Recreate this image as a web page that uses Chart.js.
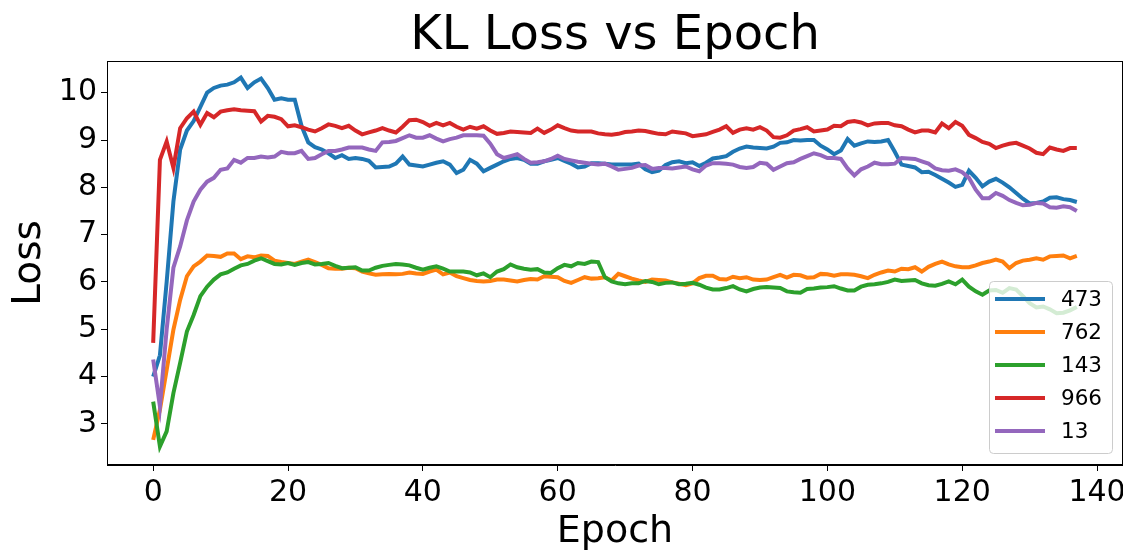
<!DOCTYPE html>
<html>
<head>
<meta charset="utf-8">
<title>KL Loss vs Epoch</title>
<script src="https://cdn.jsdelivr.net/npm/chart.js@4.4.1/dist/chart.umd.min.js"></script>
<style>
  html, body { margin: 0; padding: 0; background: #ffffff; }
  #wrap { width: 1123px; height: 555px; }
</style>
</head>
<body>
<div id="wrap"><canvas id="klChart" width="1123" height="555"></canvas></div>
<script>
/* ===KL loss per epoch, five runs=== */
const FONT = '"DejaVu Sans", "Liberation Sans", sans-serif';

const runNames = ['473', '762', '143', '966', '13'];
const runColors = ['#1f77b4', '#ff7f0e', '#2ca02c', '#d62728', '#9467bd'];
const xTicks = [0, 20, 40, 60, 80, 100, 120, 140];
const yTicks = [3, 4, 5, 6, 7, 8, 9, 10];

// epochs 0..137, one point per epoch
const epochs = Array.from({ length: 138 }, (_, i) => i);

const loss473 = [
  4.0, 4.45, 6.0, 7.7, 8.8, 9.2, 9.4, 9.7, 10.0, 10.1,
  10.15, 10.17, 10.22, 10.32, 10.1, 10.22, 10.3, 10.1, 9.85, 9.88,
  9.85, 9.85, 9.3, 8.95, 8.85, 8.8, 8.72, 8.62, 8.68, 8.6,
  8.62, 8.6, 8.56, 8.42, 8.43, 8.44, 8.5, 8.65, 8.48, 8.46,
  8.44, 8.48, 8.52, 8.55, 8.48, 8.3, 8.37, 8.58, 8.5, 8.34,
  8.41, 8.48, 8.55, 8.6, 8.62, 8.58, 8.5, 8.5, 8.55, 8.58,
  8.62, 8.56, 8.5, 8.42, 8.44, 8.51, 8.51, 8.5, 8.48, 8.48,
  8.48, 8.48, 8.5, 8.38, 8.32, 8.35, 8.47, 8.53, 8.55, 8.51,
  8.53, 8.45, 8.52, 8.61, 8.63, 8.66, 8.75, 8.82, 8.86, 8.84,
  8.83, 8.82, 8.86, 8.94, 8.95, 9.0, 8.99, 9.0, 9.0, 8.88,
  8.8, 8.7, 8.78, 9.02, 8.88, 8.93, 8.97, 8.96, 8.97, 9.0,
  8.75, 8.48, 8.45, 8.42, 8.32, 8.33, 8.26, 8.18, 8.1, 8.01,
  8.05, 8.35, 8.2, 8.02, 8.12, 8.18, 8.1, 8.0, 7.88, 7.76,
  7.66, 7.67, 7.7, 7.78, 7.79, 7.75, 7.73, 7.69
];

const loss762 = [
  2.66, 3.3, 4.14, 4.99, 5.62, 6.12, 6.33, 6.43, 6.56, 6.55,
  6.53, 6.6, 6.6, 6.48, 6.54, 6.52, 6.56, 6.55, 6.45, 6.42,
  6.4, 6.38, 6.43, 6.47, 6.42, 6.36, 6.29, 6.28, 6.28, 6.3,
  6.29, 6.22, 6.18, 6.15, 6.16, 6.17, 6.16, 6.17, 6.2, 6.18,
  6.17, 6.22, 6.26, 6.16, 6.2, 6.12, 6.08, 6.04, 6.02, 6.01,
  6.02, 6.05, 6.05, 6.03, 6.01, 6.04, 6.06, 6.05, 6.12, 6.11,
  6.1, 6.02, 5.98, 6.04, 6.1, 6.07, 6.08, 6.1, 6.03, 6.17,
  6.12, 6.07, 6.03, 6.0, 6.05, 6.04, 6.03, 5.99, 5.96, 5.93,
  5.97, 6.08, 6.13, 6.13, 6.06, 6.05, 6.11, 6.08, 6.1, 6.05,
  6.04, 6.05, 6.1, 6.15, 6.09, 6.15, 6.14, 6.09, 6.1, 6.17,
  6.16, 6.13, 6.16, 6.16, 6.15, 6.12, 6.08, 6.15, 6.2, 6.24,
  6.22, 6.28, 6.27, 6.31, 6.22, 6.32, 6.38, 6.43, 6.37, 6.33,
  6.31, 6.31, 6.35, 6.4, 6.43, 6.47, 6.43, 6.29, 6.4, 6.45,
  6.47, 6.5, 6.47, 6.54, 6.55, 6.56, 6.5, 6.55
];

const loss143 = [
  3.47, 2.52, 2.84, 3.65, 4.29, 4.95, 5.3, 5.7, 5.9, 6.05,
  6.16, 6.2, 6.28, 6.35, 6.38, 6.45, 6.5, 6.44, 6.38, 6.37,
  6.4, 6.36, 6.4, 6.42, 6.37, 6.38, 6.4, 6.34, 6.29, 6.3,
  6.31, 6.24, 6.24, 6.3, 6.34, 6.36, 6.38, 6.37, 6.35, 6.3,
  6.26, 6.3, 6.33, 6.28, 6.22, 6.22, 6.22, 6.2, 6.14, 6.18,
  6.1, 6.22, 6.27, 6.37, 6.31, 6.28, 6.26, 6.27, 6.2, 6.19,
  6.29, 6.36, 6.33, 6.4, 6.38, 6.43, 6.42, 6.1, 6.01, 5.97,
  5.95, 5.97, 5.97, 6.02, 6.0, 5.95, 5.98, 5.99, 5.95, 5.96,
  5.98, 5.94, 5.88, 5.84, 5.84, 5.87, 5.91, 5.84, 5.8, 5.85,
  5.88, 5.89, 5.88, 5.87, 5.8, 5.78, 5.77, 5.85, 5.86, 5.88,
  5.89, 5.91, 5.86, 5.82, 5.82, 5.9, 5.94, 5.95, 5.97, 6.0,
  6.05, 6.02, 6.03, 6.04, 5.97, 5.93, 5.92, 5.96, 6.01, 5.95,
  6.05, 5.9, 5.8, 5.73, 5.82, 5.83, 5.77, 5.87, 5.84, 5.7,
  5.55, 5.46, 5.48, 5.42, 5.34, 5.35, 5.4, 5.47
];

const loss966 = [
  4.71, 8.58, 8.97, 8.41, 9.25, 9.46, 9.6, 9.32, 9.57, 9.48,
  9.6, 9.63, 9.65, 9.63, 9.62, 9.61, 9.39, 9.51, 9.49, 9.44,
  9.29, 9.31, 9.27, 9.22, 9.18, 9.25, 9.33, 9.3, 9.25, 9.3,
  9.2, 9.12, 9.16, 9.2, 9.25, 9.2, 9.16, 9.28, 9.42, 9.43,
  9.38, 9.3, 9.36, 9.31, 9.36, 9.28, 9.22, 9.28, 9.24, 9.29,
  9.2, 9.13, 9.15, 9.18, 9.17, 9.16, 9.15, 9.24, 9.15, 9.22,
  9.31, 9.25, 9.2, 9.18, 9.18, 9.18, 9.14, 9.12, 9.11, 9.13,
  9.17, 9.18, 9.2, 9.19, 9.16, 9.13, 9.12, 9.18, 9.16, 9.14,
  9.08, 9.1, 9.12, 9.17, 9.22, 9.29, 9.15, 9.22, 9.25, 9.22,
  9.27, 9.2, 9.06, 9.05, 9.1, 9.2, 9.23, 9.27, 9.18, 9.2,
  9.22, 9.3, 9.29, 9.38, 9.4, 9.37, 9.31, 9.35, 9.36, 9.36,
  9.31, 9.29, 9.22, 9.16, 9.2, 9.2, 9.16, 9.35, 9.25, 9.38,
  9.3, 9.11, 9.04, 8.96, 8.92, 8.83, 8.88, 8.92, 8.94, 8.88,
  8.82, 8.73, 8.7, 8.84, 8.8, 8.77, 8.83, 8.83
];

const loss13 = [
  4.36, 3.37, 5.0, 6.3, 6.75, 7.3, 7.7, 7.95, 8.12, 8.2,
  8.37, 8.4, 8.58, 8.52, 8.62, 8.62, 8.65, 8.63, 8.65, 8.75,
  8.72, 8.72, 8.77, 8.6, 8.62, 8.7, 8.77, 8.77, 8.8, 8.84,
  8.84, 8.84, 8.8, 8.77, 8.95, 8.96, 8.98, 9.04, 9.1, 9.05,
  9.05, 9.1, 9.03, 8.97, 9.02, 9.05, 9.1, 9.1, 9.1, 9.09,
  8.92, 8.7, 8.62, 8.66, 8.7, 8.6, 8.52, 8.53, 8.55, 8.6,
  8.67, 8.6, 8.57, 8.54, 8.52, 8.5, 8.48, 8.5, 8.44, 8.37,
  8.39, 8.41, 8.46, 8.47, 8.39, 8.41, 8.41, 8.4, 8.42, 8.44,
  8.38, 8.34, 8.46, 8.51, 8.51, 8.5, 8.48, 8.43, 8.41, 8.43,
  8.52, 8.5, 8.37, 8.44, 8.51, 8.53, 8.6, 8.66, 8.72, 8.68,
  8.62, 8.62, 8.6, 8.4, 8.25, 8.38, 8.44, 8.52, 8.49, 8.49,
  8.5, 8.62, 8.61, 8.6, 8.55, 8.5, 8.4, 8.36, 8.35, 8.38,
  8.32, 8.2, 7.95, 7.77, 7.77, 7.88, 7.82, 7.73, 7.67, 7.62,
  7.63, 7.67, 7.66, 7.58, 7.57, 7.6, 7.58, 7.5
];

const runLosses = [loss473, loss762, loss143, loss966, loss13];

// top/right spines plus the boxed legend in the lower right corner
const frameAndLegend = {
  id: 'frameAndLegend',
  afterDatasetsDraw(chart) {
    const { ctx, chartArea } = chart;
    ctx.save();
    ctx.strokeStyle = '#000';
    ctx.lineWidth = 1;
    ctx.strokeRect(chartArea.left + 0.5, chartArea.top + 0.5,
      chartArea.right - chartArea.left - 1, chartArea.bottom - chartArea.top - 1);

    const w = 123, h = 172;
    const x0 = chartArea.right - 11 - w;
    const y0 = chartArea.bottom - 12 - h;
    ctx.beginPath();
    ctx.roundRect(x0 + 0.5, y0 + 0.5, w, h, 4);
    ctx.fillStyle = 'rgba(255, 255, 255, 0.8)';
    ctx.fill();
    ctx.strokeStyle = '#cccccc';
    ctx.stroke();

    ctx.font = '21.5px ' + FONT;
    ctx.textBaseline = 'middle';
    ctx.textAlign = 'left';
    chart.data.datasets.forEach((ds, i) => {
      const yy = y0 + 18 + i * 33;
      ctx.strokeStyle = ds.borderColor;
      ctx.lineWidth = 4;
      ctx.beginPath();
      ctx.moveTo(x0 + 6, yy);
      ctx.lineTo(x0 + 56, yy);
      ctx.stroke();
      ctx.fillStyle = '#000';
      ctx.fillText(ds.label, x0 + 72, yy + 1);
    });
    ctx.restore();
  }
};

const axisLook = {
  grid: { display: true, drawOnChartArea: false, drawTicks: true, tickLength: 6, color: '#000', lineWidth: 1 },
  border: { display: true, color: '#000', width: 1 }
};

const ctx = document.getElementById('klChart');
new Chart(ctx, {
  type: 'line',
  data: {
    labels: epochs,
    datasets: runNames.map((name, i) => ({
      label: name,
      data: runLosses[i],
      borderColor: runColors[i],
      backgroundColor: runColors[i],
      borderWidth: 4,
      pointRadius: 0,
      tension: 0,
      fill: false,
      order: runNames.length - i // later runs drawn on top, like matplotlib
    }))
  },
  options: {
    responsive: false,
    animation: false,
    layout: { padding: 0 },
    plugins: {
      legend: { display: false },
      tooltip: { enabled: false },
      title: {
        display: true,
        text: 'KL Loss vs Epoch',
        fullSize: false,
        color: '#000',
        font: { family: FONT, size: 48, weight: 'normal', lineHeight: 1.0 },
        padding: { top: 13, bottom: 0 }
      }
    },
    scales: {
      x: {
        type: 'linear',
        min: -6.85,
        max: 143.85,
        ...axisLook,
        afterFit: (s) => { s.height = 90; s.paddingLeft = 0; s.paddingRight = 0; },
        afterBuildTicks: (s) => { s.ticks = xTicks.map(v => ({ value: v })); },
        ticks: { autoSkip: false, maxRotation: 0, padding: 4, color: '#000', font: { family: FONT, size: 30 } },
        title: { display: true, text: 'Epoch', color: '#000', font: { family: FONT, size: 38 }, padding: { top: 0, bottom: 0 } }
      },
      y: {
        type: 'linear',
        min: 2.13,
        max: 10.67,
        ...axisLook,
        afterFit: (s) => { s.width = 107; s.paddingTop = 0; s.paddingBottom = 0; },
        afterBuildTicks: (s) => { s.ticks = yTicks.map(v => ({ value: v })); },
        ticks: { padding: 4, color: '#000', font: { family: FONT, size: 30 } },
        title: { display: true, text: 'Loss', color: '#000', font: { family: FONT, size: 39 }, padding: { top: 6, bottom: 0 } }
      }
    }
  },
  plugins: [frameAndLegend]
});
</script>
</body>
</html>
